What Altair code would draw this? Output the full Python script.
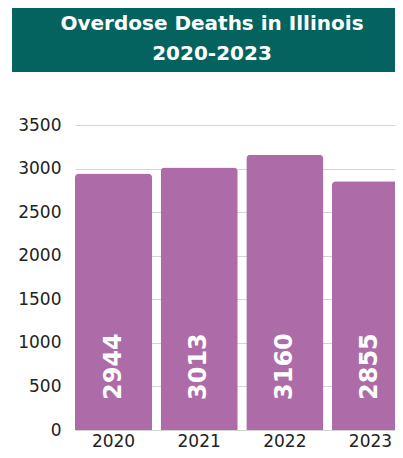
import altair as alt
import pandas as pd

years = ["2020", "2021", "2022", "2023"]
deaths = [2944, 3013, 3160, 2855]
title_lines = ["Overdose Deaths in Illinois", "2020-2023"]
y_ticks = [0, 500, 1000, 1500, 2000, 2500, 3000, 3500]

df = pd.DataFrame({"year": years, "deaths": deaths})
tdf = pd.DataFrame({"line": title_lines})

W, H = 320, 305      # visible plot area (last bar runs past the right edge)
BAND_RANGE = 334     # full band-scale extent
FONT = "DejaVu Sans"
BAR = "#AD6CA7"
TEAL = "#05635F"

x_enc = alt.X(
    "year:N", sort=years,
    scale=alt.Scale(paddingInner=0.1, paddingOuter=0, range=[0, BAND_RANGE]),
    axis=alt.Axis(title=None, labelAngle=0, ticks=False, domain=False,
                  labelPadding=3, labelFontSize=17, labelFont=FONT,
                  labelColor="#222222", grid=False),
)

bars = alt.Chart(df).mark_bar(
    color=BAR, cornerRadiusTopLeft=4, cornerRadiusTopRight=4
).encode(
    x=x_enc,
    y=alt.Y("deaths:Q", scale=alt.Scale(domain=[0, 3500], nice=False),
            axis=alt.Axis(title=None, values=y_ticks, format="d", ticks=False,
                          domain=False, labelPadding=14, labelFontSize=17,
                          labelFont=FONT, labelColor="#222222",
                          gridColor="#d4d4d4", gridWidth=1)),
)

labels = alt.Chart(df).mark_text(
    angle=270, align="left", baseline="middle", dx=30,
    font=FONT, fontWeight="bold", fontSize=24, color="white"
).encode(
    x=alt.X("year:N", sort=years),
    y=alt.YDatum(0),
    text=alt.Text("deaths:Q", format="d"),
)

box = alt.Chart(tdf.head(1)).mark_rect(color=TEAL).encode(
    x=alt.value(-63), x2=alt.value(W + 20), y=alt.value(-120), y2=alt.value(-53)
)

t1 = alt.Chart(tdf.head(1)).mark_text(
    text=title_lines[0], font=FONT, fontWeight="bold", fontSize=20,
    color="white", align="center", baseline="middle"
).encode(x=alt.value(137), y=alt.value(-101))

t2 = alt.Chart(tdf.head(1)).mark_text(
    text=title_lines[1], font=FONT, fontWeight="bold", fontSize=20,
    color="white", align="center", baseline="middle"
).encode(x=alt.value(137), y=alt.value(-71))

chart = alt.layer(box, bars, labels, t1, t2).properties(
    width=W, height=H,
    autosize=alt.AutoSizeParams(type="none"),
    padding={"left": 67, "top": 117, "right": 0, "bottom": 20},
    background="white",
).configure_view(stroke=None)

chart.save("out.html", embed_options={"renderer": "svg", "actions": False})
